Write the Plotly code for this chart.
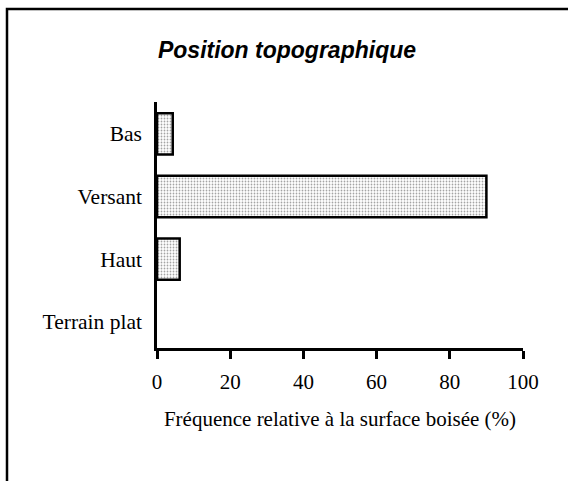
import plotly.graph_objects as go

# data
categories = ["Terrain plat", "Haut", "Versant", "Bas"]
frequences = [0, 6.2, 90, 4.3]
x_ticks = [0, 20, 40, 60, 80, 100]

W, H = 568, 481
L, R, T, B = 157, 45, 102, 133
pw, ph = W - L - R, H - T - B


def px_x(px):
    return (px - L) / pw


def px_y(py):
    return (H - B - py) / ph


fig = go.Figure()
fig.add_trace(go.Bar(
    x=frequences,
    y=categories,
    orientation="h",
    width=0.66,
    marker=dict(
        color="white",
        line=dict(color="black", width=[0 if v == 0 else 2.5 for v in frequences]),
        pattern=dict(shape=".", size=3, solidity=0.28, fgcolor="#4a4a4a", bgcolor="white"),
    ),
    showlegend=False,
))

# frame round the whole figure
fig.add_shape(
    type="rect", xref="paper", yref="paper",
    x0=px_x(7), x1=px_x(590), y0=px_y(520), y1=px_y(9),
    line=dict(color="black", width=2.5), layer="below",
)

fig.update_layout(
    width=W, height=H,
    margin=dict(l=L, r=R, t=T, b=B),
    plot_bgcolor="white",
    paper_bgcolor="white",
    font=dict(family="Liberation Serif, Times New Roman, serif", size=21, color="black"),
    title=dict(
        text="<b><i>Position topographique</i></b>",
        font=dict(family="Liberation Sans, Arial, sans-serif", size=23, color="black"),
        x=287 / W, xanchor="center",
        y=1 - 50 / H, yanchor="middle",
    ),
    xaxis=dict(
        range=[0, 100],
        tickvals=x_ticks,
        showgrid=False,
        zeroline=False,
        showline=True,
        linecolor="black",
        linewidth=2.5,
        ticks="outside",
        ticklen=8,
        tickwidth=2.5,
        tickcolor="black",
        ticklabelstandoff=5,
        tickfont=dict(size=21),
        title=dict(text="Fréquence relative à la surface boisée (%)", standoff=19,
                   font=dict(size=21)),
    ),
    yaxis=dict(
        range=[-0.42, 3.51],
        showgrid=False,
        zeroline=False,
        showline=True,
        linecolor="black",
        linewidth=2.5,
        ticks="",
        ticklabelstandoff=8,
        tickfont=dict(size=21.5),
    ),
)

fig.write_html(
    "out.html",
    config={"displayModeBar": False},
    post_script="document.body.style.margin='0';document.body.style.overflow='hidden';",
)
